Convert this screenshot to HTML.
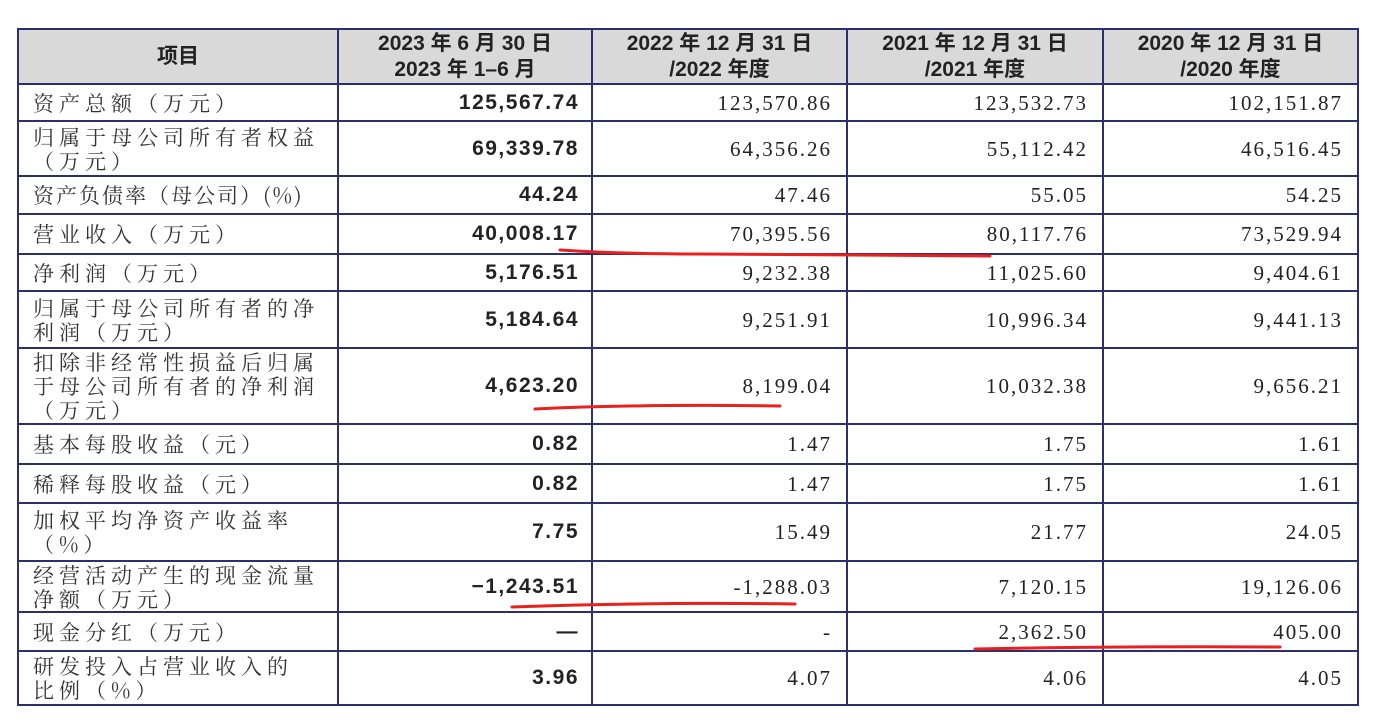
<!DOCTYPE html>
<html><head><meta charset="utf-8"><style>
body{margin:0;width:1380px;height:722px;background:#fff;position:relative;overflow:hidden;font-family:"Liberation Serif","Noto Serif CJK SC",serif;color:#222}
table{position:absolute;left:17px;top:28px;width:1340px;border-collapse:collapse;table-layout:fixed}
td{border:2px solid #2b2f6e;padding:0 14px;font-size:20px;line-height:24px;overflow:hidden}
td.l{text-align:left;padding-left:14px;padding-right:0;color:#333;letter-spacing:5px;font-family:"Noto Serif CJK SC",serif;font-size:21px;white-space:nowrap}
td.b{text-align:right;font-family:"Liberation Sans","Noto Sans CJK SC",sans-serif;font-weight:bold;font-size:21px;letter-spacing:1.5px;padding-right:12px}
td.n{text-align:right;padding-right:14px;font-size:21px;letter-spacing:2px}
tr.h td{background:#d9d9d9;text-align:center;font-family:"Liberation Sans","Noto Sans CJK SC",sans-serif;font-weight:bold;font-size:21px;line-height:26px}
svg{position:absolute;left:0;top:0}
</style></head><body>
<table>
<colgroup><col style="width:320px"><col style="width:254px"><col style="width:255px"><col style="width:256px"><col style="width:255px"></colgroup>
<tr class="h" style="height:55px"><td>项目</td><td>2023 年 6 月 30 日<br>2023 年 1–6 月</td><td>2022 年 12 月 31 日<br>/2022 年度</td><td>2021 年 12 月 31 日<br>/2021 年度</td><td>2020 年 12 月 31 日<br>/2020 年度</td></tr>
<tr style="height:37px"><td class="l">资产总额（万元）</td><td class="b">125,567.74</td><td class="n">123,570.86</td><td class="n">123,532.73</td><td class="n">102,151.87</td></tr>
<tr style="height:55px"><td class="l">归属于母公司所有者权益<br>（万元）</td><td class="b">69,339.78</td><td class="n">64,356.26</td><td class="n">55,112.42</td><td class="n">46,516.45</td></tr>
<tr style="height:38px"><td class="l" style="letter-spacing:2px">资产负债率（母公司）(%)</td><td class="b">44.24</td><td class="n">47.46</td><td class="n">55.05</td><td class="n">54.25</td></tr>
<tr style="height:40px"><td class="l">营业收入（万元）</td><td class="b">40,008.17</td><td class="n">70,395.56</td><td class="n">80,117.76</td><td class="n">73,529.94</td></tr>
<tr style="height:37px"><td class="l">净利润（万元）</td><td class="b">5,176.51</td><td class="n">9,232.38</td><td class="n">11,025.60</td><td class="n">9,404.61</td></tr>
<tr style="height:57px"><td class="l">归属于母公司所有者的净<br>利润（万元）</td><td class="b">5,184.64</td><td class="n">9,251.91</td><td class="n">10,996.34</td><td class="n">9,441.13</td></tr>
<tr style="height:76px"><td class="l">扣除非经常性损益后归属<br>于母公司所有者的净利润<br>（万元）</td><td class="b">4,623.20</td><td class="n">8,199.04</td><td class="n">10,032.38</td><td class="n">9,656.21</td></tr>
<tr style="height:40px"><td class="l">基本每股收益（元）</td><td class="b">0.82</td><td class="n">1.47</td><td class="n">1.75</td><td class="n">1.61</td></tr>
<tr style="height:39px"><td class="l">稀释每股收益（元）</td><td class="b">0.82</td><td class="n">1.47</td><td class="n">1.75</td><td class="n">1.61</td></tr>
<tr style="height:58px"><td class="l">加权平均净资产收益率<br>（%）</td><td class="b">7.75</td><td class="n">15.49</td><td class="n">21.77</td><td class="n">24.05</td></tr>
<tr style="height:51px"><td class="l">经营活动产生的现金流量<br>净额（万元）</td><td class="b">−1,243.51</td><td class="n">-1,288.03</td><td class="n">7,120.15</td><td class="n">19,126.06</td></tr>
<tr style="height:39px"><td class="l">现金分红（万元）</td><td class="b">—</td><td class="n">-</td><td class="n">2,362.50</td><td class="n">405.00</td></tr>
<tr style="height:54px"><td class="l">研发投入占营业收入的<br>比例（%）</td><td class="b">3.96</td><td class="n">4.07</td><td class="n">4.06</td><td class="n">4.05</td></tr>
</table>
<svg width="1380" height="722"><g fill="none" stroke="#e8201e" stroke-width="3" stroke-linecap="round">
<path d="M560 250 Q620 254 700 254 L990 256"/>
<path d="M535 409 Q640 404 780 406"/>
<path d="M512 607 Q650 602 795 604"/>
<path d="M975 649 Q1120 646 1280 647"/>
</g></svg>
</body></html>
